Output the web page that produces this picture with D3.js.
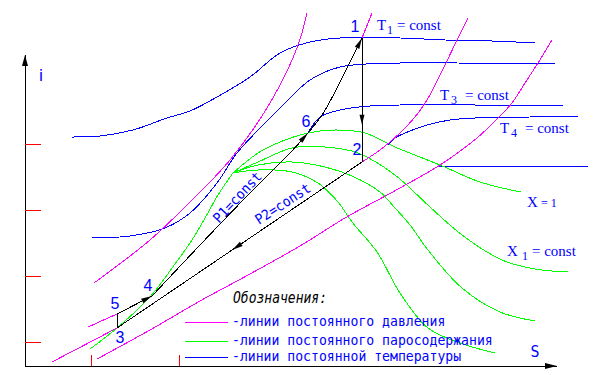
<!DOCTYPE html>
<html><head><meta charset="utf-8">
<script src="https://cdn.jsdelivr.net/npm/d3@7"></script>
<style>html,body{margin:0;padding:0;background:#fff;} svg{display:block;}</style>
</head><body>
<svg id="chart" width="595" height="375"></svg>
<script>
// ---------- data (s, i) in arbitrary diagram units ----------
// isobars (magenta)
const isobarP0 = [[6.9,8.3],[12.5,12.6],[16.5,16.4],[20.5,20.6],[24.5,26.3],[27.2,31.8],[28.2,35.3]];
const isobarP1Liquid = [[6.3,3.9],[9.2,5.2],[12.7,7.0]];
const isobarP1Heating = [[12.7,7.0],[17.5,12.1],[22.5,17.3],[26.5,21.3],[28.3,23.3],[29.7,25.1],[31.0,27.4],[32.3,30.0],[33.7,32.8]];
const isobarP1Upper = [[33.7,32.8],[34.7,35.3]];
const isobarP2Lower = [[2.7,0.4],[9.2,3.8]];
const isobarP2Wet = [[9.2,3.8],[33.7,20.4]];
const isobarP2Upper = [[33.7,20.4],[35.5,21.6],[37.5,23.3],[39.0,24.9],[40.2,26.6],[42.0,30.1],[43.2,32.6],[44.3,34.8]];
const isobarP3 = [[7.2,0.7],[12.5,3.6],[17.5,6.5],[22.5,9.2],[27.5,12.0],[32.0,14.8],[37.5,17.8],[41.5,20.1],[45.2,22.8],[47.3,24.8],[48.7,26.3],[50.0,28.3],[51.3,30.3],[52.7,32.6]];
// dryness-fraction lines (green)
const satLiquid = [[6.5,1.7],[9.2,3.8],[12.5,6.9],[15.0,10.2],[16.7,12.6],[18.0,14.8],[19.3,17.1],[20.3,18.6],[20.8,19.3]];
const satVapor = [[20.8,19.3],[23.3,21.3],[25.5,22.4],[28.3,23.3],[31.0,23.6],[34.0,23.3],[37.0,21.9],[41.5,20.1],[45.5,18.4],[49.6,17.4]];
const dryX1 = [[20.8,19.3],[23.3,20.4],[26.7,21.8],[30.0,21.9],[33.3,21.3],[37.0,19.1],[40.5,15.9],[43.7,13.1],[47.7,10.6],[51.0,9.7],[54.3,9.4]];
const dryX2 = [[20.8,19.3],[23.3,20.1],[26.7,20.4],[30.0,19.9],[32.7,19.0],[35.5,17.4],[37.0,15.8],[38.5,14.1],[40.3,11.6],[43.7,7.8],[47.5,5.4],[51.0,4.5]];
const dryX3 = [[20.8,19.3],[23.3,19.6],[26.7,19.4],[29.3,18.3],[31.3,16.4],[32.7,14.4],[35.2,11.4],[37.5,7.3],[40.3,3.8],[43.5,2.3],[47.0,1.3]];
// isotherms (blue)
const isothermT1 = [[4.7,22.9],[7.5,23.0],[10.8,23.6],[14.2,24.8],[16.5,25.5],[19.2,26.9],[22.5,28.9],[25.5,31.3],[28.5,32.4],[31.5,32.8],[37.5,32.8],[42.0,32.6],[46.7,32.5],[51.0,32.3]];
const isothermT2 = [[6.7,12.8],[10.5,13.0],[14.0,13.8],[16.5,15.3],[19.2,18.3],[21.2,21.3],[24.5,24.8],[25.5,25.8],[28.5,28.6],[31.5,29.9],[37.5,30.3],[43.2,30.3],[53.0,30.2]];
const isothermT3 = [[28.3,23.3],[29.5,24.9],[31.5,25.6],[34.5,26.0],[37.5,26.1],[45.0,26.1],[53.8,26.1]];
const isothermT4 = [[36.3,22.1],[37.0,22.8],[38.5,23.5],[40.2,24.1],[42.5,24.6],[45.0,24.8],[50.5,24.9],[55.3,24.9]];
const isothermT5 = [[41.3,20.0],[56.3,20.0]];
// cycle state points
const statePoints = [
  {id:"1", s:33.7, i:32.8}, {id:"2", s:33.7, i:20.4}, {id:"3", s:9.2, i:3.8},
  {id:"4", s:12.7, i:7.0}, {id:"5", s:9.2, i:5.2}, {id:"6", s:28.3, i:23.3}
];
// axis ticks
const iTicks = [2.4, 9.0, 15.6, 22.2];
const sTicks = [6.6, 15.4];
const axisTop = 31.1, axisRight = 53.2;
// legend
const legendItems = [
  {text:"-линии постоянного давления", color:"#ff00ff"},
  {text:"-линии постоянного паросодержания", color:"#00ff00"},
  {text:"-линии постоянной температуры", color:"#0000ff"}
];

// ---------- drawing ----------
const svg = d3.select("#chart");
svg.append("rect").attr("width",595).attr("height",375).attr("fill","#fff");
const x = d3.scaleLinear().domain([0,57]).range([25,595]);
const y = d3.scaleLinear().domain([0,36.6]).range([366,0]);
const P = id => statePoints.find(p=>p.id===id);
const px = p => [x(p.s), y(p.i)];

const curve = d3.line().x(d=>x(d[0])).y(d=>y(d[1])).curve(d3.curveCatmullRom.alpha(0.5));
const straight = d3.line().x(d=>x(d[0])).y(d=>y(d[1]));

const MAG="#ff00ff", GRN="#00ff00", BLU="#0000ff";
function draw(data, color, gen){
  svg.append("path").attr("d",(gen||curve)(data)).attr("fill","none")
    .attr("stroke",color).attr("stroke-width",1).attr("shape-rendering","crispEdges");
}
// isotherms
[isothermT1,isothermT2,isothermT3,isothermT4].forEach(d=>draw(d,BLU));
draw(isothermT5,BLU,straight);
// dryness lines
[satLiquid,satVapor,dryX1,dryX2,dryX3].forEach(d=>draw(d,GRN));
// isobars
draw(isobarP0,MAG); draw(isobarP3,MAG);
draw(isobarP1Liquid,MAG,straight); draw(isobarP1Upper,MAG,straight);
draw(isobarP2Lower,MAG,straight); draw(isobarP2Upper,MAG);

// cycle (black)
const K="#000";
draw(isobarP1Heating,K);
draw([[P("5").s,P("5").i],[P("4").s,P("4").i]],K,straight);
draw([[P("1").s,P("1").i],[P("2").s,P("2").i]],K,straight);
draw(isobarP2Wet,K,straight);
draw([[P("3").s,P("3").i],[P("5").s,P("5").i]],K,straight);

function arrow(from, tip, len, half){
  const dx=tip[0]-from[0], dy=tip[1]-from[1], L=Math.hypot(dx,dy);
  const ux=dx/L, uy=dy/L, bx=tip[0]-ux*len, by=tip[1]-uy*len;
  svg.append("polygon").attr("points",
    [[tip[0],tip[1]],[bx-uy*half,by+ux*half],[bx+uy*half,by-ux*half]].map(p=>p.join(",")).join(" "))
    .attr("fill","#000");
}
const lerp=(a,b,t)=>[a[0]+(b[0]-a[0])*t, a[1]+(b[1]-a[1])*t];
// 5 -> 4
arrow(px(P("5")), px(P("4")), 11, 2.5);
// 4 -> 6 and 6 -> 1
{const h=isobarP1Heating; const i6=h.findIndex(d=>d[0]===P("6").s);
 arrow([x(h[i6-1][0]),y(h[i6-1][1])], px(P("6")), 11, 2.5);
 arrow([x(h[h.length-2][0]),y(h[h.length-2][1])], px(P("1")), 11, 2.5);}
// 1 -> 2
arrow(px(P("1")), lerp(px(P("1")),px(P("2")),0.7), 10, 2.5);
// 2 -> 3
arrow(px(P("2")), lerp(px(P("2")),px(P("3")),0.53), 11, 2.5);

// axes
svg.append("line").attr("x1",x(0)).attr("y1",y(0)).attr("x2",x(0)).attr("y2",y(axisTop))
  .attr("stroke","#000").attr("stroke-width",1).attr("shape-rendering","crispEdges");
svg.append("line").attr("x1",x(0)).attr("y1",y(0)).attr("x2",x(axisRight)).attr("y2",y(0))
  .attr("stroke","#000").attr("stroke-width",1).attr("shape-rendering","crispEdges");
arrow([x(0),y(0)],[x(0),y(axisTop)],11,3);
arrow([x(0),y(0)],[x(axisRight),y(0)],12,3);
const yAx = svg.append("g").attr("transform",`translate(${x(0)},0)`)
  .call(d3.axisRight(y).tickValues(iTicks).tickSize(16).tickFormat(""));
const xAx = svg.append("g").attr("transform",`translate(0,${y(0)})`)
  .call(d3.axisTop(x).tickValues(sTicks).tickSize(11).tickFormat(""));
[yAx,xAx].forEach(a=>{a.select(".domain").remove();
  a.selectAll(".tick line").attr("stroke","#ff0000").attr("shape-rendering","crispEdges");});

// axis labels
svg.append("text").attr("x",41).attr("y",81).attr("text-anchor","middle")
  .attr("font-family","DejaVu Sans").attr("font-size",16).attr("fill",BLU).text("i");
svg.append("text").attr("x",535).attr("y",357).attr("text-anchor","middle")
  .attr("font-family","DejaVu Sans Mono").attr("font-size",15).attr("fill",BLU).text("S");

// state point labels
const off = {"1":[-7,-6],"2":[-5,-7],"3":[3,15],"4":[-4,-5],"5":[-2,-5],"6":[-2,-6]};
statePoints.forEach(p=>{
  svg.append("text").attr("x",x(p.s)+off[p.id][0]).attr("y",y(p.i)+off[p.id][1])
    .attr("text-anchor","middle").attr("font-family","Liberation Sans").attr("font-size",16)
    .attr("fill",BLU).text(p.id);
});

// isobar labels
function rotText(t, px0, py0, ang, len){
  svg.append("text").attr("transform",`translate(${px0},${py0}) rotate(${ang})`)
    .attr("font-family","DejaVu Sans Mono").attr("font-size",14).attr("fill",BLU)
    .attr("textLength",len).attr("lengthAdjust","spacingAndGlyphs").text(t);
}
rotText("P1=const", 219, 224, -47, 64);
rotText("P2=const", 259, 225, -33, 63);

// T labels
function subLabel(main, sub, rest, xm, xs, xr, base){
  const t = svg.append("text").attr("font-family","Liberation Serif").attr("fill",BLU);
  t.append("tspan").attr("x",xm).attr("y",base).attr("font-size",15).text(main);
  t.append("tspan").attr("x",xs).attr("y",base+4).attr("font-size",12).text(sub);
  t.append("tspan").attr("x",xr).attr("y",base).attr("font-size",15).text(rest);
}
subLabel("T","1","= const",377,387,397,30);
subLabel("T","3","= const",440,451,465,100);
subLabel("T","4","= const",500,511,525,133);
subLabel("X","1","= const",507,522,532,256);
{const t = svg.append("text").attr("font-family","Liberation Serif").attr("fill",BLU);
 t.append("tspan").attr("x",527).attr("y",207).attr("font-size",15).text("X");
 t.append("tspan").attr("x",541).attr("y",207).attr("font-size",12).text("= 1");}

// legend
svg.append("text").attr("x",233).attr("y",303).attr("font-family","DejaVu Sans Mono")
  .attr("font-style","italic").attr("font-size",15).attr("textLength",94)
  .attr("lengthAdjust","spacingAndGlyphs").attr("fill","#000").text("Обозначения:");
const legY = [326,345,361], lineY=[322,341,357];
legendItems.forEach((d,k)=>{
  svg.append("line").attr("x1",185).attr("x2",228).attr("y1",lineY[k]).attr("y2",lineY[k])
    .attr("stroke",d.color).attr("stroke-width",1).attr("shape-rendering","crispEdges");
  svg.append("text").attr("x",232).attr("y",legY[k]).attr("font-family","DejaVu Sans Mono")
    .attr("font-size",14).attr("fill",BLU).attr("textLength",d.text.length*7.9)
    .attr("lengthAdjust","spacingAndGlyphs").text(d.text);
});
</script></body></html>
